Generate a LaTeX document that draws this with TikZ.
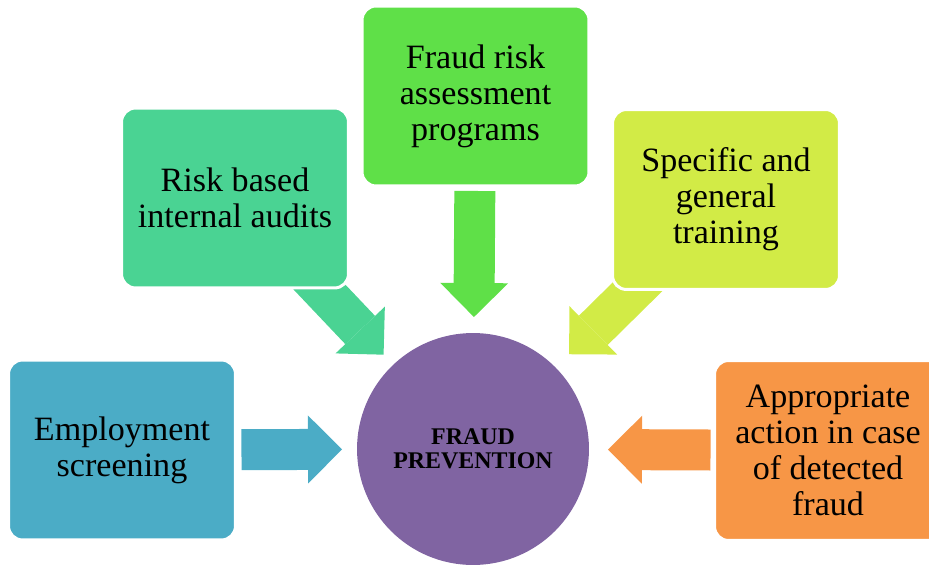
\documentclass[tikz,border=0pt]{standalone}
\usepackage{fontspec}
\setmainfont{Liberation Serif}
\usetikzlibrary{arrows.meta}
\usetikzlibrary{backgrounds}

\definecolor{empcol}{HTML}{4BACC6}
\definecolor{auditcol}{HTML}{4AD393}
\definecolor{assesscol}{HTML}{5FE048}
\definecolor{traincol}{HTML}{D2EB46}
\definecolor{actioncol}{HTML}{F79646}
\definecolor{fraudcol}{HTML}{8064A2}

\tikzset{
  idea/.style={draw=white, line width=0.06cm, rounded corners=0.28cm,
    minimum width=4.54cm, minimum height=3.6cm, align=center, outer sep=0pt,
    inner sep=0pt, font=\fontsize{19.4}{20.5}\selectfont},
  hub/.style={circle, fill=fraudcol, minimum size=4.64cm, align=center,
    outer sep=0pt, inner sep=0pt, font=\bfseries\fontsize{13.6}{13.6}\selectfont},
  fat/.style={line width=0.82cm,
    -{Triangle[width=1.36cm, length=0.68cm, line width=0pt]}}
}

\begin{document}
\begin{tikzpicture}[x=0.02cm, y=-0.02cm]
  \useasboundingbox (0,0) rectangle (929,567);

  % Center
  \node[hub] (fraud) at (473,449) {FRAUD\\PREVENTION};

  % Boxes
  \node[idea, fill=empcol] (emp) at (122,450) {Employment\\screening};
  \node[idea, fill=auditcol] (audit) at (235,198) {Risk based\\internal audits};
  \node[idea, fill=assesscol] (assess) at (475.5,96) {Fraud risk\\assessment\\programs};
  \node[idea, fill=traincol] (train) at (726,199.5) {Specific and\\general\\training};
  \node[idea, fill=actioncol] (action) at (828,450.5) {Appropriate\\action in case\\of detected\\fraud};

  % Arrows
  \begin{scope}[on background layer]
    \draw[fat, empcol, shorten <=0.12cm, shorten >=0.3cm] (emp) -- (fraud);
    \draw[fat, auditcol, shorten <=2cm, shorten >=0.28cm] (audit.center) -- (fraud);
    \draw[fat, assesscol, shorten <=0.1cm, shorten >=0.32cm] (assess) -- (fraud);
    \draw[fat, traincol, shorten <=2cm, shorten >=0.38cm] (train.center) -- (fraud);
    \draw[fat, actioncol, shorten <=0.08cm, shorten >=0.38cm] (action) -- (fraud);
  \end{scope}
\end{tikzpicture}
\end{document}
